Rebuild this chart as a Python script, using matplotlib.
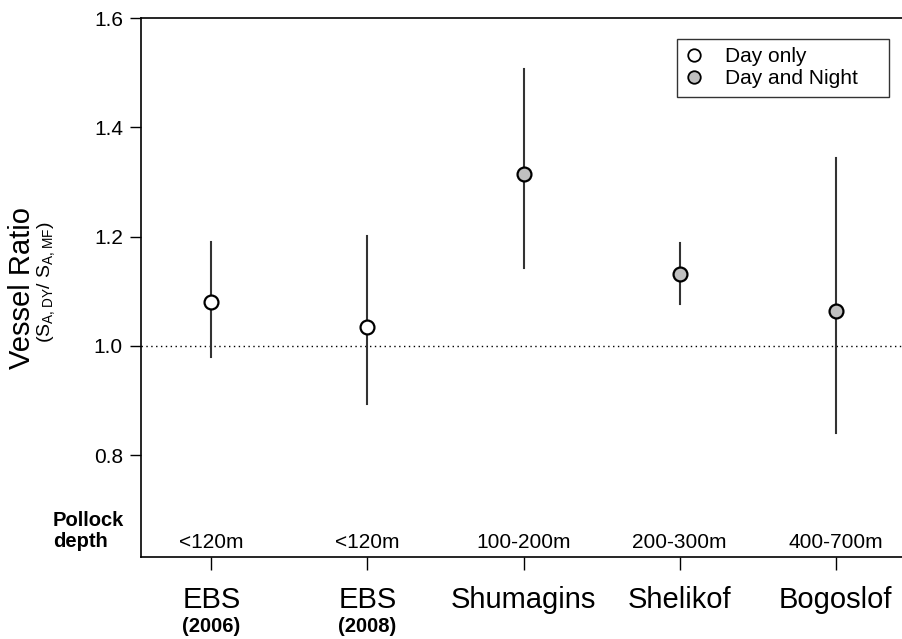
import matplotlib
matplotlib.use("Agg")
import matplotlib.pyplot as plt

plt.rcParams["font.family"] = ["Liberation Sans", "DejaVu Sans"]
plt.rcParams["mathtext.fontset"] = "custom"
plt.rcParams["mathtext.rm"] = "Liberation Sans"

# data
regions = ["EBS", "EBS", "Shumagins", "Shelikof", "Bogoslof"]
years = ["(2006)", "(2008)", "", "", ""]
depths = ["<120m", "<120m", "100-200m", "200-300m", "400-700m"]
ratio = [1.081, 1.035, 1.314, 1.132, 1.064]
ci_low = [0.980, 0.894, 1.143, 1.077, 0.840]
ci_high = [1.190, 1.202, 1.507, 1.188, 1.343]
night = [False, False, True, True, True]

pos = list(range(1, len(regions) + 1))

fig = plt.figure(figsize=(9.03, 6.39), dpi=100)
ax = fig.add_axes([141 / 903, 82 / 639, 762 / 903, 539 / 639])

ax.axhline(1.0, color="black", linestyle=(0, (1, 2.5)), linewidth=1, zorder=1)

for x, y, lo, hi, dn in zip(pos, ratio, ci_low, ci_high, night):
    ax.plot([x, x], [lo, hi], color="#333333", linewidth=1.5, zorder=2)
    ax.plot(x, y, "o", markersize=10, markeredgewidth=1.6,
            markeredgecolor="black",
            markerfacecolor="#c0c0c0" if dn else "white", zorder=3)

# legend handles (markers only)
h1, = ax.plot([], [], "o", markersize=9, markeredgewidth=1.3,
              markeredgecolor="black", markerfacecolor="white", label="Day only")
h2, = ax.plot([], [], "o", markersize=9, markeredgewidth=1.3,
              markeredgecolor="black", markerfacecolor="#c0c0c0", label="Day and Night")
leg = ax.legend(handles=[h1, h2], loc="upper left", mode="expand",
                bbox_to_anchor=(0.703, 0.80, 0.278, 0.161), borderaxespad=0,
                fontsize=15, frameon=True, fancybox=False, edgecolor="black",
                handletextpad=1.0, borderpad=0.4, labelspacing=0.15,
                handlelength=0.9)
leg.get_frame().set_linewidth(1.0)

ax.set_xlim(0.55, 5.43)
ax.set_ylim(0.614, 1.6)
ax.set_yticks([0.8, 1.0, 1.2, 1.4, 1.6])
ax.set_yticklabels(["0.8", "1.0", "1.2", "1.4", "1.6"])
ax.set_xticks(pos)
ax.set_xticklabels(regions, fontsize=21)
ax.tick_params(axis="y", direction="out", length=8, width=1, labelsize=15, pad=5)
ax.tick_params(axis="x", direction="out", length=9, width=1, pad=12)
ax.spines["right"].set_visible(False)
for s in ["left", "top", "bottom"]:
    ax.spines[s].set_linewidth(1.2)

for x, yr in zip(pos, years):
    if yr:
        ax.annotate(yr, xy=(x, 0), xycoords=("data", "axes fraction"),
                    xytext=(0, -50), textcoords="offset points",
                    ha="center", va="center", fontsize=14.5, fontweight="bold")

for x, d in zip(pos, depths):
    ax.text(x, 0.641, d, ha="center", va="center", fontsize=15)

fig.text(53 / 903, 1 - 531 / 639, "Pollock\ndepth",
         ha="left", va="center", fontsize=14.5, fontweight="bold", linespacing=1.15)

fig.text(22 / 903, 1 - 288 / 639, "Vessel Ratio", rotation=90,
         ha="center", va="center", fontsize=21)
fig.text(47 / 903, 1 - 282 / 639,
         r"(S$_{\mathrm{A,DY}}$/ S$_{\mathrm{A,MF}}$)", rotation=90,
         ha="center", va="center", fontsize=14)

fig.savefig("out.png", dpi=100)
